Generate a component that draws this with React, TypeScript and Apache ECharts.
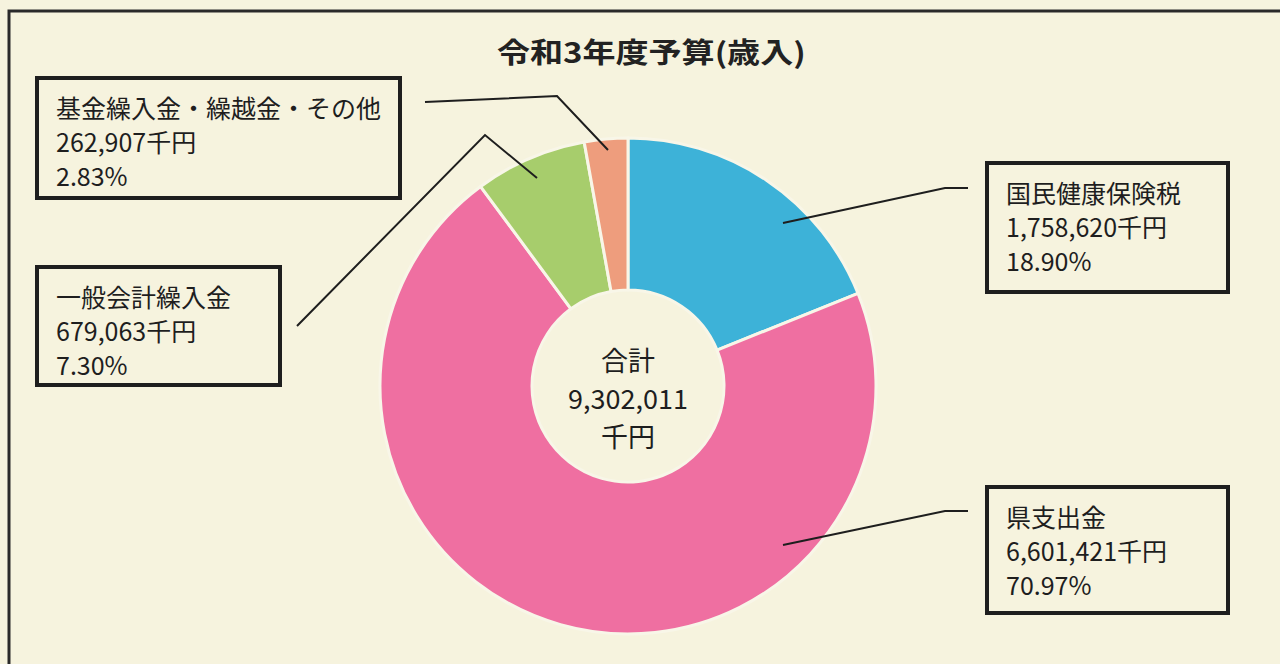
import React, { useEffect, useRef } from "react";
import * as echarts from "echarts";

const titleText = "令和3年度予算(歳入)";
const categories = ["国民健康保険税", "県支出金", "一般会計繰入金", "基金繰入金・繰越金・その他"];
const amounts = [1758620, 6601421, 679063, 262907];
const percentLabels = ["18.90", "70.97", "7.30", "2.83"];
const sliceColors = ["#3db2d8", "#ef6fa1", "#a7cd6c", "#ee9d7d"];
const unit = "千円";
const totalLabel = "合計";

// label box layout (top-left corner, width, height) and leader line points
const boxes = [
  { x: 987, y: 163, w: 241, h: 129 },
  { x: 987, y: 487, w: 241, h: 126 },
  { x: 37, y: 267, w: 243, h: 118 },
  { x: 37, y: 78, w: 363, h: 120 },
];
const leaderLines = [
  [[783, 223], [945, 188], [968, 188]],
  [[783, 545], [945, 511], [968, 511]],
  [[537, 178], [485, 135], [297, 326]],
  [[608, 150], [557, 96], [425, 102]],
];

const fmt = (v: number) => v.toLocaleString("en-US");
const FONT = "'Noto Sans CJK JP', 'Noto Sans', sans-serif";
const PAD = [12, 10, 10, 19];

export default function App() {
  const ref = useRef<HTMLDivElement>(null);
  useEffect(() => {
    if (!ref.current) return;
    const chart = echarts.init(ref.current, null, { renderer: "svg" });
    const total = amounts.reduce((a, b) => a + b, 0);
    chart.setOption({
      animation: false,
      backgroundColor: "#f6f3de",
      graphic: [
        {
          type: "polyline",
          shape: { points: [[9, 700], [9, 11], [1300, 11]] },
          style: { stroke: "#2a2a2a", lineWidth: 3, fill: null },
        },
        {
          type: "text",
          x: 497,
          y: 51,
          scaleX: 1.18,
          style: {
            text: titleText,
            fontFamily: FONT,
            fontSize: 28,
            fontWeight: "bold",
            fill: "#222",
            align: "left",
            verticalAlign: "middle",
          },
        },
        {
          type: "text",
          x: 628,
          y: 397,
          style: {
            text: `${totalLabel}\n${fmt(total)}\n${unit}`,
            fontFamily: FONT,
            fontSize: 27,
            lineHeight: 38,
            fill: "#1e1e1e",
            align: "center",
            verticalAlign: "middle",
          },
          z: 10,
        },
        ...leaderLines.map((pts) => ({
          type: "polyline",
          shape: { points: pts },
          style: { stroke: "#1e1e1e", lineWidth: 2, fill: null },
          z: 20,
        })),
      ],
      series: [
        {
          type: "pie",
          center: [628, 386],
          radius: [96, 248],
          startAngle: 90,
          clockwise: true,
          avoidLabelOverlap: false,
          emphasis: { disabled: true },
          itemStyle: { borderColor: "#f8f6e8", borderWidth: 3 },
          label: {
            show: true,
            position: "outside",
            fontFamily: FONT,
            fontSize: 25,
            lineHeight: 34,
            color: "#1e1e1e",
            borderColor: "#1e1e1e",
            borderWidth: 2,
            padding: PAD,
            backgroundColor: "transparent",
            formatter: (p: any) =>
              `${p.name}\n${fmt(p.value)}${unit}\n${percentLabels[p.dataIndex]}%`,
          },
          labelLine: { show: false },
          labelLayout: (params: any) => {
            const b = boxes[params.dataIndex];
            return { x: b.x, y: b.y, align: "left", verticalAlign: "top" };
          },
          data: categories.map((name, i) => ({
            name,
            value: amounts[i],
            itemStyle: { color: sliceColors[i] },
            label: {
              width: boxes[i].w - PAD[1] - PAD[3],
              height: boxes[i].h - PAD[0] - PAD[2],
            },
          })),
        },
      ],
    });
    return () => chart.dispose();
  }, []);
  return (
    <div
      ref={ref}
      style={{ position: "absolute", left: 0, top: 0, width: 1280, height: 664 }}
    />
  );
}
